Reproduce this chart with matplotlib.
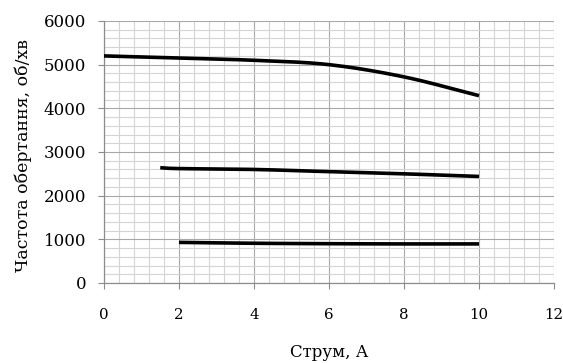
import numpy as np
import matplotlib
matplotlib.use('Agg')
import matplotlib.pyplot as plt
from matplotlib.ticker import MultipleLocator

# дані
strum_1 = [0, 2, 4, 6, 8, 10]
oberty_1 = [5200, 5150, 5100, 5000, 4720, 4290]

strum_2 = [1.5, 2, 4, 6, 8, 10]
oberty_2 = [2640, 2620, 2600, 2550, 2500, 2440]

strum_3 = [2, 4, 6, 8, 10]
oberty_3 = [930, 910, 900, 895, 895]

x_ticks = [0, 2, 4, 6, 8, 10, 12]
y_ticks = [0, 1000, 2000, 3000, 4000, 5000, 6000]


def zgladzhuvannya(x, y, n=30):
    # крива Катмулла-Рома між точками (як згладжена лінія в Excel)
    x = np.asarray(x, float)
    y = np.asarray(y, float)
    px = np.concatenate([[2 * x[0] - x[1]], x, [2 * x[-1] - x[-2]]])
    py = np.concatenate([[2 * y[0] - y[1]], y, [2 * y[-1] - y[-2]]])
    xs, ys = [], []
    t = np.linspace(0, 1, n)
    for i in range(1, len(px) - 2):
        for p, out in ((px, xs), (py, ys)):
            p0, p1, p2, p3 = p[i - 1], p[i], p[i + 1], p[i + 2]
            out.append(0.5 * (2 * p1 + (-p0 + p2) * t
                              + (2 * p0 - 5 * p1 + 4 * p2 - p3) * t ** 2
                              + (-p0 + 3 * p1 - 3 * p2 + p3) * t ** 3))
    return np.concatenate(xs), np.concatenate(ys)


plt.rcParams['font.family'] = ['DejaVu Serif']

fig = plt.figure(figsize=(5.63, 3.63), dpi=100)
ax = fig.add_axes([0.1847, 0.2204, 0.7993, 0.7218])

for xs, ys in ((strum_1, oberty_1), (strum_2, oberty_2), (strum_3, oberty_3)):
    sx, sy = zgladzhuvannya(xs, ys)
    ax.plot(sx, sy, color='black', linewidth=2.6, solid_capstyle='butt', zorder=3)

ax.set_xlim(0, 12)
ax.set_ylim(0, 6000)
ax.set_xticks(x_ticks)
ax.set_yticks(y_ticks)
ax.xaxis.set_minor_locator(MultipleLocator(0.4))
ax.yaxis.set_minor_locator(MultipleLocator(200))

ax.grid(which='minor', color='#d4d4d4', linewidth=0.8)
ax.grid(which='major', color='#a8a8a8', linewidth=0.8)
ax.set_axisbelow(True)

for s in ('top', 'right'):
    ax.spines[s].set_visible(False)
for s in ('left', 'bottom'):
    ax.spines[s].set_color('#8c8c8c')
    ax.spines[s].set_linewidth(0.9)

ax.tick_params(which='minor', length=0)
ax.tick_params(axis='y', which='major', length=4.3, color='#8c8c8c', pad=8.5, labelsize=12)
ax.tick_params(axis='x', which='major', length=4.3, color='#8c8c8c', pad=14, labelsize=10.8)

ax.set_xlabel('Струм, А', fontsize=12)
ax.set_ylabel('Частота обертання, об/хв', fontsize=12.5)
ax.xaxis.set_label_coords(0.5, -0.232)
ax.yaxis.set_label_coords(-0.16, 0.485)

fig.savefig('out.png', dpi=100)
plt.close(fig)
